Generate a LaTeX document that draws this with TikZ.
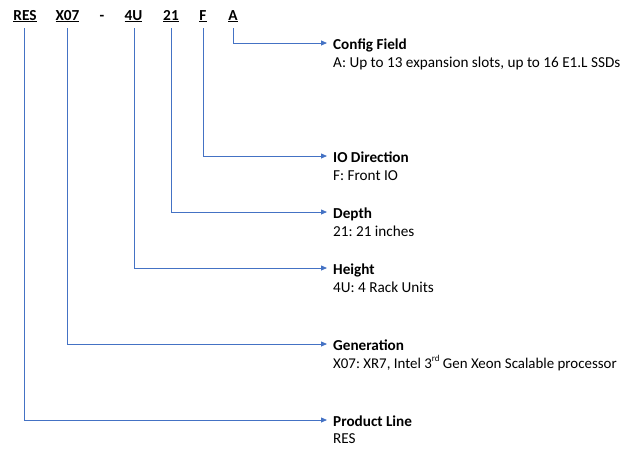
\documentclass[tikz,border=0pt]{standalone}
\usepackage{fontspec}
\setmainfont{Carlito}
\usetikzlibrary{arrows.meta}
\definecolor{lineblue}{HTML}{4472C4}
\newcommand{\supsm}[1]{\raisebox{0.45em}{\fontsize{9}{10}\selectfont #1}}
\frenchspacing
\begin{document}
\begin{tikzpicture}[x=1pt,y=-1pt,
  code/.style={font=\fontsize{15.3}{17}\selectfont\bfseries, inner sep=0pt, anchor=base},
  conn/.style={draw=lineblue, line width=0.8pt, -{Triangle[length=6pt,width=5pt]}},
  ttl/.style={font=\fontsize{15.2}{17}\selectfont\bfseries, inner sep=0pt, anchor=base west},
  dsc/.style={font=\fontsize{15.2}{17}\selectfont\frenchspacing, inner sep=0pt, anchor=base west}]
\useasboundingbox (0,0) rectangle (627,448);
% codes
\node[code] (res) at (25,20) {\underline{RES}};
\node[code] (x07) at (67.5,20) {\underline{X07}};
\node[code] (dash) at (102,20) {-};
\node[code] (u4) at (133.5,20) {\underline{4U}};
\node[code] (d21) at (171,20) {\underline{21}};
\node[code] (f) at (203,20) {\underline{F}};
\node[code] (a) at (233,20) {\underline{A}};
% coordinates
\coordinate (ra) at (233,28);
\coordinate (rf) at (203,28);
\coordinate (r21) at (171,28);
\coordinate (r4u) at (134,28);
\coordinate (rx) at (67,28);
\coordinate (rr) at (24,28);
% labels
\node[ttl] (t1) at (333,49) {Config Field};
\node[dsc] (d1) at (333,67.5) {A: Up to 13 expansion slots, up to 16 E1.L SSDs};
\node[ttl] (t2) at (333,162) {IO Direction};
\node[dsc] (d2) at (333,180.5) {F: Front IO};
\node[ttl] (t3) at (333,218) {Depth};
\node[dsc] (d3) at (333,236.5) {21: 21 inches};
\node[ttl] (t4) at (333,274) {Height};
\node[dsc] (d4) at (333,292.5) {4U: 4 Rack Units};
\node[ttl] (t5) at (333,350) {Generation};
\node[dsc, font=\fontsize{14.9}{17}\selectfont\frenchspacing] (d5) at (333,368.5) {X07: XR7, Intel 3\supsm{rd} Gen Xeon Scalable processor};
\node[ttl] (t6) at (333,426) {Product Line};
\node[dsc] (d6) at (333,443.5) {RES};
% connectors
\draw[conn] (ra) |- ([xshift=-6pt]t1.west |- 0,43);
\draw[conn] (rf) |- ([xshift=-6pt]t2.west |- 0,156);
\draw[conn] (r21) |- ([xshift=-6pt]t3.west |- 0,212);
\draw[conn] (r4u) |- ([xshift=-6pt]t4.west |- 0,268);
\draw[conn] (rx) |- ([xshift=-6pt]t5.west |- 0,344);
\draw[conn] (rr) |- ([xshift=-6pt]t6.west |- 0,420);
\end{tikzpicture}
\end{document}
